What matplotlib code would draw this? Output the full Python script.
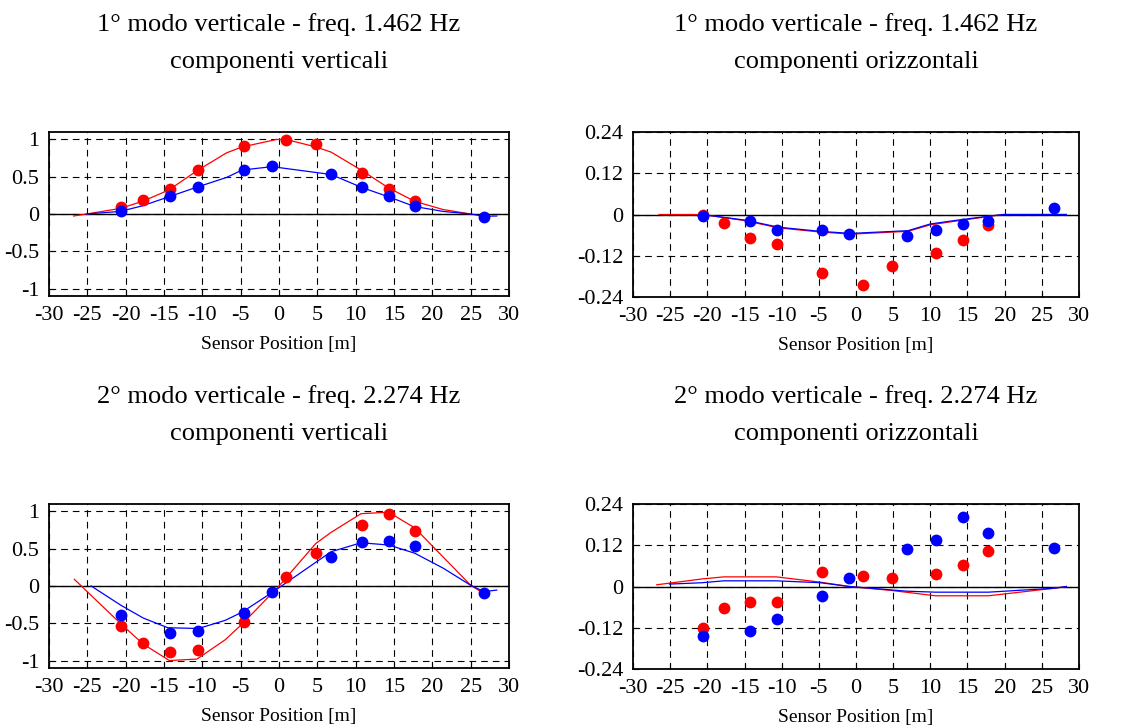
import numpy as np
import matplotlib
matplotlib.use("Agg")
import matplotlib.pyplot as plt

plt.rcParams['font.family'] = ['Liberation Serif', 'DejaVu Serif']

# sensor positions [m]
x_red = [-20.6, -17.7, -14.2, -10.6, -4.6, 0.9, 4.8, 10.8, 14.4, 17.8]
x_blue = [-20.6, -14.2, -10.6, -4.6, -0.9, 6.8, 10.8, 14.4, 17.8, 26.7]

# mode 1 - vertical components
m1v_red = [0.093, 0.19, 0.34, 0.59, 0.915, 0.987, 0.94, 0.547, 0.34, 0.173]
m1v_blue = [0.044, 0.24, 0.364, 0.59, 0.64, 0.538, 0.364, 0.24, 0.11, -0.04]
m1v_red_lx = [-26.8, -25.1, -20.7, -17.8, -14.4, -10.7, -6.85, -4.8, -0.3, 0.9, 4.8, 6.8, 10.7, 14.3, 17.7, 21.4, 25.0]
m1v_red_ly = [-0.027, 0.0, 0.075, 0.17, 0.32, 0.58, 0.82, 0.9, 1.0, 1.0, 0.9, 0.83, 0.59, 0.35, 0.17, 0.06, 0.0]
m1v_blue_lx = [-25.1, -20.7, -17.8, -14.4, -10.7, -6.85, -4.8, -0.9, 6.8, 10.7, 14.3, 17.7, 21.4, 25.0, 26.7, 28.4]
m1v_blue_ly = [0.0, 0.035, 0.11, 0.23, 0.36, 0.49, 0.59, 0.635, 0.53, 0.36, 0.23, 0.10, 0.035, 0.0, -0.03, -0.027]

# mode 1 - horizontal components
m1h_red = [0.0, -0.024, -0.068, -0.085, -0.171, -0.204, -0.15, -0.111, -0.073, -0.031]
m1h_blue = [-0.004, -0.0185, -0.046, -0.046, -0.056, -0.062, -0.046, -0.029, -0.0185, 0.020]
m1h_red_lx = [-26.5, -20.7, -14.9, -10.4, -4.8, -0.7, 7.0, 10.0, 13.8, 17.8, 19.8, 28.3]
m1h_red_ly = [0.0, 0.0, -0.018, -0.039, -0.051, -0.057, -0.049, -0.030, -0.018, -0.006, 0.0, 0.0]
m1h_blue_lx = [-20.7, -14.9, -10.4, -4.8, -0.7, 7.0, 10.0, 13.8, 17.8, 19.8, 28.3]
m1h_blue_ly = [0.0, -0.0164, -0.037, -0.049, -0.055, -0.047, -0.0275, -0.016, -0.005, 0.0, 0.0]

# mode 2 - vertical components
m2v_red = [-0.538, -0.76, -0.884, -0.858, -0.489, 0.116, 0.44, 0.813, 0.964, 0.738]
m2v_blue = [-0.39, -0.636, -0.609, -0.364, -0.084, 0.39, 0.587, 0.609, 0.533, -0.089]
m2v_red_lx = [-26.7, -20.5, -17.7, -14.3, -10.7, -7.0, -4.7, 0.0, 4.8, 6.8, 10.7, 14.3, 17.7, 25.0, 26.7]
m2v_red_ly = [0.09, -0.52, -0.78, -1.0, -0.98, -0.72, -0.5, 0.0, 0.57, 0.72, 0.97, 0.99, 0.78, 0.01, -0.1]
m2v_blue_lx = [-24.5, -20.6, -17.7, -14.5, -10.5, -7.0, -4.8, -0.8, 6.8, 10.7, 14.3, 17.7, 21.4, 25.0, 26.7, 28.4]
m2v_blue_ly = [0.0, -0.26, -0.43, -0.56, -0.57, -0.46, -0.35, -0.08, 0.46, 0.58, 0.55, 0.44, 0.24, 0.01, -0.075, -0.055]

# mode 2 - horizontal components
m2h_red = [-0.121, -0.062, -0.046, -0.046, 0.042, 0.030, 0.025, 0.036, 0.064, 0.102]
m2h_blue = [-0.145, -0.128, -0.095, -0.029, 0.025, 0.108, 0.135, 0.202, 0.157, 0.113]
m2h_red_lx = [-26.8, -20.7, -17.8, -10.7, -4.8, -0.9, 4.8, 10.7, 17.8, 26.7, 28.3]
m2h_red_ly = [0.005, 0.022, 0.028, 0.028, 0.0126, 0.0, -0.0116, -0.027, -0.027, -0.005, 0.0]
m2h_blue_lx = [-25.1, -20.7, -17.8, -10.7, -4.8, -0.9, 6.8, 10.7, 17.8, 26.7, 28.3]
m2h_blue_ly = [0.007, 0.011, 0.0165, 0.0165, 0.011, 0.0, -0.0136, -0.0165, -0.0165, -0.005, 0.0]

titles = [
    ("1° modo verticale - freq. 1.462 Hz", "componenti verticali"),
    ("1° modo verticale - freq. 1.462 Hz", "componenti orizzontali"),
    ("2° modo verticale - freq. 2.274 Hz", "componenti verticali"),
    ("2° modo verticale - freq. 2.274 Hz", "componenti orizzontali"),
]
xticks = list(range(-30, 31, 5))
yticks_v = [-1, -0.5, 0, 0.5, 1]
ytick_v_labels = ['-1', '-0.5', '0', '0.5', '1']
yticks_h = [-0.24, -0.12, 0, 0.12, 0.24]
ytick_h_labels = ['-0.24', '-0.12', '0', '0.12', '0.24']

W, H = 1148, 725
fig = plt.figure(figsize=(W / 100, H / 100), dpi=100)

def px_axes(left, top, right, bottom):
    return fig.add_axes([left / W, 1 - bottom / H, (right - left) / W, (bottom - top) / H])

panels = [
    (px_axes(49, 132, 509, 296), m1v_red, m1v_blue, m1v_red_lx, m1v_red_ly, m1v_blue_lx, m1v_blue_ly, 'v'),
    (px_axes(633, 132, 1079, 297), m1h_red, m1h_blue, m1h_red_lx, m1h_red_ly, m1h_blue_lx, m1h_blue_ly, 'h'),
    (px_axes(49, 504, 509, 668), m2v_red, m2v_blue, m2v_red_lx, m2v_red_ly, m2v_blue_lx, m2v_blue_ly, 'v'),
    (px_axes(633, 504, 1079, 669), m2h_red, m2h_blue, m2h_red_lx, m2h_red_ly, m2h_blue_lx, m2h_blue_ly, 'h'),
]

for i, (ax, r, b, rlx, rly, blx, bly, kind) in enumerate(panels):
    ax.plot(rlx, rly, color='#ff0000', lw=0.9, zorder=3)
    ax.plot(blx, bly, color='#0000ff', lw=0.9, zorder=3)
    ax.plot(x_red, r, 'o', color='#ff0000', ms=8.5, mec='none', zorder=4)
    ax.plot(x_blue, b, 'o', color='#0000ff', ms=8.5, mec='none', zorder=5)

    ax.set_xlim(-30, 30)
    ax.set_xticks(xticks)
    ax.set_xticklabels([str(t) for t in xticks])
    if kind == 'v':
        ax.set_ylim(-1.1, 1.1)
        ax.set_yticks(yticks_v)
        ax.set_yticklabels(ytick_v_labels)
    else:
        ax.set_ylim(-0.24, 0.24)
        ax.set_yticks(yticks_h)
        ax.set_yticklabels(ytick_h_labels)

    ax.grid(True, color='black', linestyle=(0, (6, 4.5)), lw=0.8)
    ax.axhline(0, color='black', lw=1.0, zorder=2)
    ax.tick_params(direction='in', length=4, width=0.8, labelsize=16, pad=7)
    for s in ax.spines.values():
        s.set_linewidth(1.3)
    ax.set_xlabel('Sensor Position [m]', fontsize=14, labelpad=8)

    t1, t2 = titles[i]
    hpx = ax.get_position().height * H
    ax.text(0.5, 1 + 107 / hpx, t1, transform=ax.transAxes, ha='center', va='center', fontsize=19)
    ax.text(0.5, 1 + 70 / hpx, t2, transform=ax.transAxes, ha='center', va='center', fontsize=19)

fig.savefig('out.png', dpi=100)
